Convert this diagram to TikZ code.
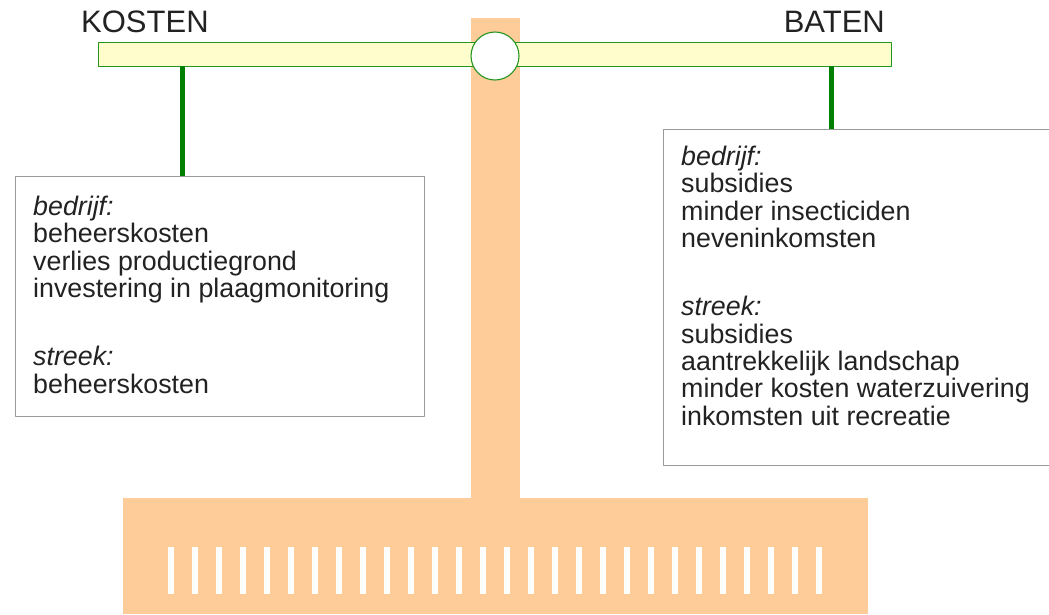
\documentclass[tikz,border=0pt]{standalone}
\usepackage{fontspec}
\setmainfont{Liberation Sans}
\usetikzlibrary{positioning}
\definecolor{peach}{HTML}{FECC99}
\definecolor{beamfill}{HTML}{FFFDCC}
\definecolor{beamline}{HTML}{23961F}
\definecolor{hanger}{HTML}{008000}
\definecolor{boxline}{HTML}{9A9A9A}
\definecolor{ink}{HTML}{222222}
\begin{document}
\begin{tikzpicture}[x=1pt,y=-1pt,line join=round]
		\tikzset{box/.style={draw=boxline,line width=1.3pt,fill=white,inner sep=0pt,anchor=north west},
			itemtext/.style={font=\fontsize{26.8}{27.3}\selectfont,text=ink,align=left,inner sep=0pt,anchor=north west},
			side/.style={font=\fontsize{31}{31}\selectfont,text=ink,inner sep=0pt},
			hangline/.style={draw=hanger,line width=5pt}}
		\useasboundingbox (0,0) rectangle (1049,614);
		\clip (0,0) rectangle (1049,614);
		% stand
		\fill[peach] (471,18) rectangle (520,500);
		\fill[peach] (123,498) rectangle (868,614);
		\foreach \i in {0,...,27}
		\fill[white] (168+24*\i,547) rectangle (174+24*\i,594);
		% beam
		\node[draw=beamline,fill=beamfill,line width=1.1pt,minimum width=793pt,minimum height=24pt,inner sep=0pt] (beam) at (494.8,54.3) {};
		\node[circle,draw=beamline,fill=white,line width=1.1pt,minimum size=48pt,inner sep=0pt] (pivot) at (495,56) {};
		\node[side,anchor=base west] (kosten) at (81,32.3) {KOSTEN};
		\node[side,anchor=base east] (baten) at (885,32.3) {BATEN};
		% boxes
		\node[box,minimum width=409pt,minimum height=240pt] (costbox) at (14.7,176) {};
		\node[box,minimum width=400pt,minimum height=336pt] (gainbox) at (662.7,128.5) {};
		\coordinate (lefthook) at (182.7,66);
		\coordinate (righthook) at (831,66);
		\draw[hangline] (lefthook) -- (lefthook |- costbox.north);
		\draw[hangline] (righthook) -- (righthook |- gainbox.north);
		\node[itemtext] (costtext) at (33,196) {\textit{bedrijf:}\\ beheerskosten\\ verlies productiegrond\\ investering in plaagmonitoring\\[41pt] \textit{streek:}\\ beheerskosten};
		\node[itemtext] (gaintext) at (681,146) {\textit{bedrijf:}\\ subsidies\\ minder insecticiden\\ neveninkomsten\\[41pt] \textit{streek:}\\ subsidies\\ aantrekkelijk landschap\\ minder kosten waterzuivering\\ inkomsten uit recreatie};
\end{tikzpicture}
\end{document}
